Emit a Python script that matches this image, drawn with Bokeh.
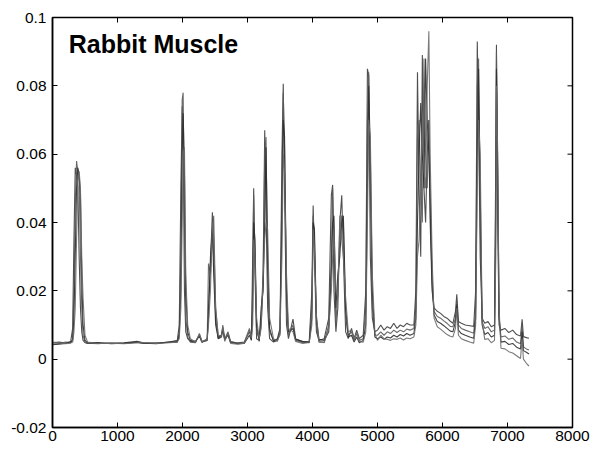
from bokeh.plotting import figure
from bokeh.models import FixedTicker, Label
from bokeh.embed import file_html
from bokeh.resources import INLINE

# ---------------- data ----------------
title_text = "Rabbit Muscle"

x_ticks = [0, 1000, 2000, 3000, 4000, 5000, 6000, 7000, 8000]
x_tick_labels = ["0", "1000", "2000", "3000", "4000", "5000", "6000", "7000", "8000"]
y_ticks = [-0.02, 0, 0.02, 0.04, 0.06, 0.08, 0.1]
y_tick_labels = ["-0.02", "0", "0.02", "0.04", "0.06", "0.08", "0.1"]

x = [
    0, 100, 200, 280, 310, 330, 350, 370, 390, 410, 430, 450, 470, 500, 540,
    700, 900, 1100, 1300, 1400, 1600, 1800, 1920, 1950, 1975, 1995, 2010, 2030, 2050, 2080,
    2120, 2200, 2260, 2300, 2380, 2400, 2430, 2460, 2480, 2510, 2550, 2600, 2620, 2650, 2700,
    2740, 2850, 2950, 3030, 3060, 3080, 3095, 3115, 3140, 3180, 3210, 3240, 3265, 3285, 3310,
    3340, 3400, 3460, 3500, 3530, 3550, 3570, 3600, 3630, 3700, 3740, 3850, 3950, 3990, 4010,
    4030, 4060, 4100, 4180, 4250, 4290, 4310, 4330, 4360, 4390, 4420, 4450, 4475, 4510, 4550,
    4600, 4640, 4680, 4720, 4780, 4820, 4845, 4865, 4890, 4920, 4960, 5000, 5050, 5100, 5150,
    5200, 5250, 5300, 5350, 5400, 5450, 5500, 5560, 5590, 5615, 5640, 5665, 5690, 5715, 5740,
    5765, 5790, 5810, 5840, 5870, 5920, 5970, 6020, 6070, 6120, 6160, 6200, 6220, 6245, 6290,
    6350, 6420, 6480, 6510, 6535, 6555, 6580, 6610, 6650, 6700, 6750, 6800, 6820, 6830, 6850,
    6870, 6900, 6960, 7020, 7080, 7140, 7200, 7225, 7245, 7290, 7330,
]

trace_a = [
    .0048, .0050, .0047, .0052, .0090, .0350, .0560, .0540, .0500, .0300, .0150, .0080, .0055, .0048, .0046,
    .0047, .0046, .0048, .0052, .0048, .0047, .0050, .0055, .0100, .0500, .0740, .0650, .0200, .0080, .0060,
    .0052, .0050, .0070, .0050, .0055, .0150, .0280, .0430, .0300, .0120, .0060, .0065, .0090, .0055, .0075,
    .0050, .0048, .0050, .0080, .0060, .0300, .0500, .0250, .0060, .0055, .0120, .0250, .0670, .0450, .0150,
    .0060, .0050, .0055, .0080, .0600, .0806, .0500, .0100, .0060, .0117, .0060, .0050, .0052, .0200, .0450,
    .0300, .0080, .0055, .0060, .0120, .0480, .0510, .0200, .0080, .0150, .0400, .0480, .0300, .0080, .0060,
    .0090, .0060, .0085, .0060, .0070, .0200, .0850, .0830, .0300, .0120, .0080, .0085, .0100, .0085, .0095,
    .0090, .0105, .0090, .0100, .0095, .0105, .0100, .0100, .0200, .0840, .0500, .0300, .0890, .0500, .0400,
    .0600, .0700, .0400, .0200, .0150, .0140, .0134, .0125, .0120, .0111, .0105, .0140, .0190, .0110, .0105,
    .0100, .0098, .0096, .0200, .0930, .0700, .0300, .0120, .0105, .0110, .0095, .0100, .0600, .0920, .0400,
    .0100, .0085, .0090, .0078, .0085, .0072, .0068, .0117, .0066, .0063, .0061,
]

trace_b = [
    .0045, .0046, .0050, .0048, .0060, .0200, .0450, .0580, .0550, .0520, .0300, .0150, .0070, .0050, .0047,
    .0045, .0048, .0046, .0049, .0046, .0048, .0049, .0052, .0080, .0300, .0760, .0780, .0400, .0120, .0065,
    .0050, .0048, .0075, .0052, .0055, .0280, .0250, .0350, .0420, .0150, .0065, .0070, .0100, .0060, .0080,
    .0052, .0046, .0049, .0090, .0065, .0200, .0480, .0300, .0080, .0060, .0100, .0220, .0600, .0650, .0250,
    .0080, .0055, .0058, .0070, .0500, .0780, .0620, .0150, .0070, .0100, .0055, .0048, .0050, .0150, .0420,
    .0350, .0100, .0050, .0050, .0100, .0300, .0500, .0350, .0100, .0200, .0350, .0420, .0400, .0120, .0070,
    .0080, .0055, .0075, .0055, .0060, .0150, .0700, .0840, .0500, .0150, .0070, .0070, .0080, .0070, .0080,
    .0075, .0085, .0078, .0085, .0080, .0088, .0085, .0090, .0150, .0650, .0700, .0500, .0400, .0880, .0600,
    .0500, .0700, .0500, .0250, .0140, .0125, .0120, .0112, .0105, .0096, .0095, .0120, .0170, .0100, .0090,
    .0085, .0080, .0076, .0150, .0800, .0880, .0400, .0110, .0090, .0095, .0080, .0085, .0500, .0900, .0500,
    .0120, .0065, .0068, .0058, .0062, .0050, .0045, .0100, .0036, .0030, .0027,
]

trace_c = [
    .0042, .0044, .0046, .0050, .0055, .0120, .0300, .0500, .0560, .0540, .0480, .0250, .0100, .0055, .0048,
    .0049, .0045, .0047, .0050, .0047, .0045, .0051, .0050, .0070, .0200, .0600, .0720, .0550, .0200, .0080,
    .0055, .0052, .0068, .0049, .0060, .0120, .0300, .0380, .0250, .0100, .0060, .0072, .0085, .0058, .0070,
    .0048, .0045, .0046, .0070, .0055, .0150, .0400, .0350, .0100, .0052, .0150, .0200, .0400, .0620, .0300,
    .0090, .0052, .0060, .0090, .0400, .0700, .0650, .0200, .0080, .0090, .0058, .0052, .0048, .0120, .0400,
    .0380, .0120, .0058, .0055, .0080, .0250, .0400, .0420, .0150, .0250, .0300, .0400, .0420, .0150, .0065,
    .0070, .0050, .0065, .0048, .0055, .0100, .0500, .0800, .0600, .0200, .0065, .0060, .0065, .0058, .0065,
    .0062, .0070, .0065, .0072, .0068, .0075, .0070, .0075, .0120, .0400, .0600, .0750, .0600, .0500, .0880,
    .0700, .0600, .0450, .0220, .0130, .0110, .0105, .0098, .0090, .0082, .0080, .0110, .0160, .0085, .0075,
    .0070, .0065, .0061, .0120, .0600, .0850, .0500, .0100, .0072, .0078, .0065, .0070, .0400, .0850, .0550,
    .0130, .0050, .0052, .0043, .0046, .0035, .0030, .0080, .0025, .0020, .0015,
]

trace_d = [
    .0050, .0048, .0045, .0047, .0050, .0080, .0150, .0350, .0520, .0550, .0500, .0300, .0180, .0070, .0050,
    .0046, .0047, .0045, .0048, .0049, .0046, .0048, .0050, .0060, .0150, .0400, .0600, .0620, .0250, .0100,
    .0060, .0050, .0072, .0051, .0058, .0100, .0200, .0400, .0360, .0150, .0070, .0068, .0095, .0052, .0078,
    .0046, .0044, .0047, .0085, .0062, .0100, .0350, .0300, .0120, .0058, .0090, .0240, .0350, .0400, .0380,
    .0120, .0060, .0052, .0075, .0300, .0600, .0550, .0250, .0090, .0080, .0052, .0046, .0049, .0100, .0380,
    .0320, .0130, .0052, .0048, .0090, .0200, .0300, .0380, .0200, .0180, .0420, .0350, .0300, .0180, .0080,
    .0085, .0060, .0080, .0052, .0050, .0080, .0400, .0700, .0650, .0250, .0075, .0055, .0070, .0060, .0058,
    .0055, .0060, .0058, .0062, .0056, .0062, .0060, .0065, .0100, .0300, .0350, .0500, .0700, .0550, .0500,
    .0800, .0960, .0600, .0300, .0120, .0095, .0088, .0080, .0072, .0067, .0065, .0090, .0150, .0070, .0060,
    .0055, .0050, .0047, .0100, .0500, .0700, .0600, .0110, .0058, .0060, .0048, .0055, .0300, .0800, .0600,
    .0150, .0032, .0030, .0022, .0018, .0010, .0002, .0060, .0000, -.0012, -.0020,
]

traces = [trace_a, trace_b, trace_c, trace_d]
trace_colors = ["#3c3c3c", "#5a5a5a", "#2c2c2c", "#6a6a6a"]

for t in traces:
    assert len(t) == len(x), (len(t), len(x))

# ---------------- figure ----------------
FONT = "Liberation Sans"
X_MIN, X_MAX = 0, 8000
Y_MIN, Y_MAX = -0.02, 0.1
FRAME_W, FRAME_H = 520, 410
TICK_PX = 5

p = figure(
    width=593, height=450,
    x_range=(X_MIN, X_MAX), y_range=(Y_MIN, Y_MAX),
    output_backend="svg", toolbar_location=None,
    min_border_left=52, min_border_right=21,
    min_border_top=17, min_border_bottom=23,
    background_fill_color="white", border_fill_color="white",
)
p.outline_line_color = "black"
p.outline_line_width = 1.5
p.xgrid.visible = False
p.ygrid.visible = False

for t, c in zip(traces, trace_colors):
    p.line(x, t, line_color=c, line_width=1.1, line_alpha=0.9)


def style_axis(ax, ticks, labels):
    ax.ticker = FixedTicker(ticks=ticks)
    ax.major_label_overrides = {tk: lb for tk, lb in zip(ticks, labels)}
    ax.major_tick_in = TICK_PX
    ax.major_tick_out = 0
    ax.minor_tick_in = 0
    ax.minor_tick_out = 0
    ax.major_tick_line_color = "black"
    ax.major_tick_line_width = 1
    ax.axis_line_color = "black"
    ax.axis_line_width = 1.5
    ax.major_label_text_font = FONT
    ax.major_label_text_font_size = "15.5px"
    ax.major_label_text_color = "black"


style_axis(p.xaxis[0], x_ticks, x_tick_labels)
style_axis(p.yaxis[0], y_ticks, y_tick_labels)
p.xaxis[0].major_label_standoff = 3
p.yaxis[0].major_label_standoff = 6

# inward ticks on the top and right edges of the box (mirrors of the axis ticks)
dy_tick = TICK_PX * (Y_MAX - Y_MIN) / FRAME_H
dx_tick = TICK_PX * (X_MAX - X_MIN) / FRAME_W
inner_x = [t for t in x_ticks if X_MIN < t < X_MAX]
inner_y = [t for t in y_ticks if Y_MIN < t < Y_MAX]
p.segment(x0=inner_x, y0=[Y_MAX] * len(inner_x), x1=inner_x, y1=[Y_MAX - dy_tick] * len(inner_x),
          line_color="black", line_width=1)
p.segment(x0=[X_MAX] * len(inner_y), y0=inner_y, x1=[X_MAX - dx_tick] * len(inner_y), y1=inner_y,
          line_color="black", line_width=1)

p.add_layout(Label(
    x=250, y=0.0922, text=title_text,
    text_font=FONT, text_font_size="25px", text_font_style="bold",
    text_color="black", text_baseline="alphabetic",
))

open("out.html", "w").write(file_html(p, INLINE))
